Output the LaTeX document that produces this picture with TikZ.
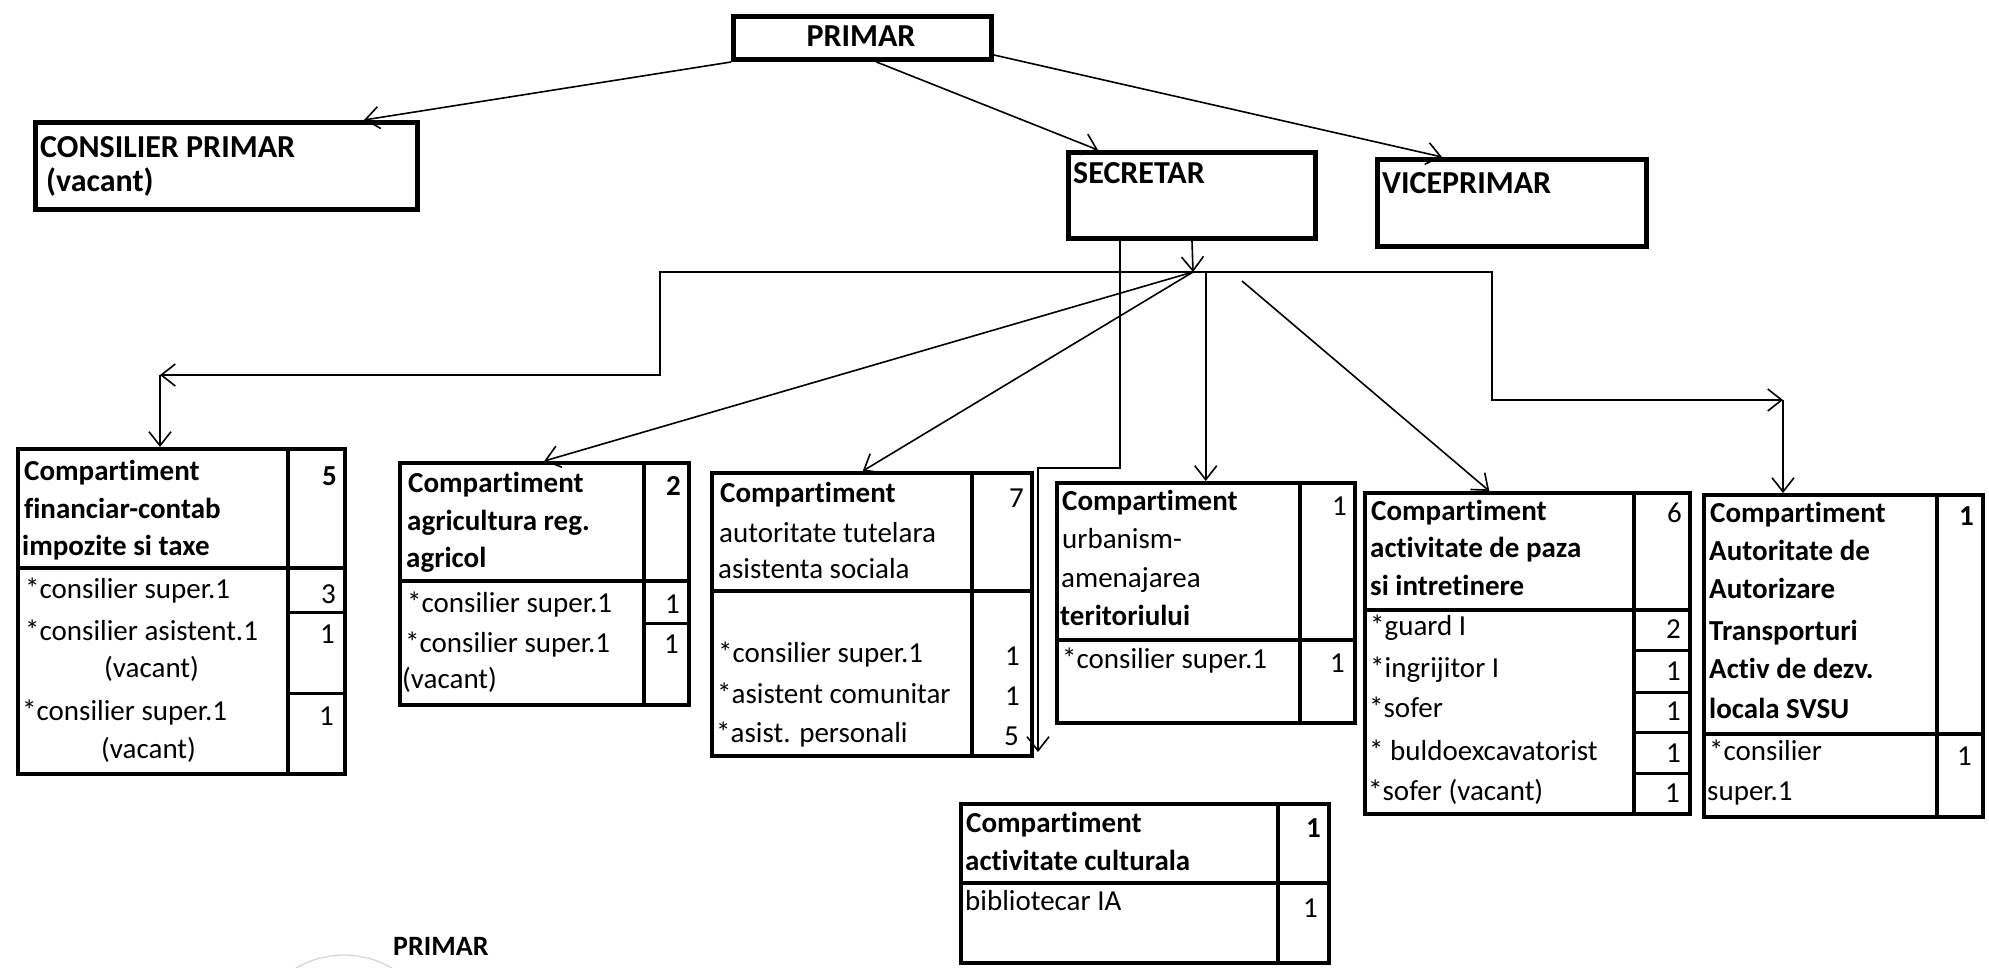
\documentclass[tikz,border=0pt]{standalone}
\usepackage{fontspec}
\setmainfont{Carlito}[Ligatures=NoCommon]
\usetikzlibrary{arrows.meta}
\tikzset{
  topbox/.style={draw, line width=5pt, rectangle, inner sep=0pt, anchor=north west},
  cbox/.style={draw, line width=3.5pt, rectangle, inner sep=0pt, anchor=north west},
  div/.style={line width=3.5pt},
  rdiv/.style={line width=3pt},
  conn/.style={line width=1.6pt},
  arr/.style={conn, -{Straight Barb[length=14pt,width=22pt]}},
  hd/.style={font=\fontsize{29}{36}\selectfont\bfseries, inner sep=0pt, anchor=base west},
  tx/.style={font=\fontsize{29}{36}\selectfont, inner sep=0pt, anchor=base west},
  num/.style={font=\fontsize{29}{36}\selectfont, inner sep=0pt, anchor=base east},
  bnum/.style={font=\fontsize{29}{36}\selectfont\bfseries, inner sep=0pt, anchor=base east},
  tt/.style={font=\fontsize{32}{38}\selectfont\bfseries, inner sep=0pt, anchor=base west},
}
\begin{document}
\begin{tikzpicture}[x=1pt,y=-1pt]
\useasboundingbox (0,0) rectangle (1989,967);
\clip (0,0) rectangle (1989,967);

% ---------- top boxes ----------
\node[topbox, minimum width=258pt, minimum height=43pt] (primar) at (731,14) {};
\node[tt, anchor=base] (primarT) at (861,46) {PRIMAR};

\node[topbox, minimum width=382pt, minimum height=87pt] (consilier) at (33,120) {};
\node[tt] (consT1) at (40,157) {CONSILIER PRIMAR};
\node[tt] (consT2) at (46,191) {(vacant)};

\node[topbox, minimum width=247pt, minimum height=86pt] (secretar) at (1066,150) {};
\node[tt] (secT) at (1073,183) {SECRETAR};

\node[topbox, minimum width=269pt, minimum height=87pt] (viceprimar) at (1375,157) {};
\node[tt] (viceT) at (1382,193) {VICEPRIMAR};

% ---------- financiar ----------
\node[cbox, minimum width=327pt, minimum height=325pt] (fin) at (16,447) {};
\draw[div] (288,447) -- (288,772);
\draw[div] (16,568) -- (343,568);
\draw[rdiv] (288,612) -- (343,612);
\draw[rdiv] (288,693) -- (343,693);
\node[hd] (finH1) at (24,480) {Compartiment};
\node[hd] (finH2) at (24,518) {financiar-contab};
\node[hd] (finH3) at (22,555) {impozite si taxe};
\node[bnum] (finN0) at (337,485) {5};
\node[tx] (finR1) at (25,598) {*consilier super.1};
\node[num] (finN1) at (336,603) {3};
\node[tx] (finR2) at (25,640) {*consilier asistent.1};
\node[tx] (finR3) at (104,677) {(vacant)};
\node[num] (finN2) at (335,643) {1};
\node[tx] (finR4) at (22,720) {*consilier super.1};
\node[tx] (finR5) at (101,758) {(vacant)};
\node[num] (finN3) at (334,725) {1};

% ---------- agricultura ----------
\node[cbox, minimum width=289pt, minimum height=242pt] (agr) at (398,461) {};
\draw[div] (644,461) -- (644,703);
\draw[div] (398,581) -- (687,581);
\draw[rdiv] (644,623) -- (687,623);
\node[hd] (agrH1) at (408,492) {Compartiment};
\node[hd] (agrH2) at (407,530) {agricultura reg.};
\node[hd] (agrH3) at (406,567) {agricol};
\node[bnum] (agrN0) at (681,495) {2};
\node[tx] (agrR1) at (407,612) {*consilier super.1};
\node[num] (agrN1) at (680,613) {1};
\node[tx] (agrR2) at (405,652) {*consilier super.1};
\node[tx] (agrR3) at (402,688) {(vacant)};
\node[num] (agrN2) at (679,653) {1};

% ---------- tutelara ----------
\node[cbox, minimum width=320pt, minimum height=283pt] (tut) at (710,471) {};
\draw[div] (972,471) -- (972,754);
\draw[div] (710,591) -- (1030,591);
\node[hd] (tutH1) at (720,502) {Compartiment};
\node[tx] (tutH2) at (719,542) {autoritate tutelara};
\node[tx] (tutH3) at (718,578) {asistenta sociala};
\node[num] (tutN0) at (1024,507) {7};
\node[tx] (tutR1) at (718,662) {*consilier super.1};
\node[num] (tutN1) at (1020,665) {1};
\node[tx] (tutR2) at (717,703) {*asistent comunitar};
\node[num] (tutN2) at (1020,705) {1};
\node[tx] (tutR3) at (716,742) {*asist. personali};
\node[num] (tutN3) at (1019,745) {5};

% ---------- urbanism ----------
\node[cbox, minimum width=298pt, minimum height=240pt] (urb) at (1055,481) {};
\draw[div] (1300,481) -- (1300,721);
\draw[div] (1055,640) -- (1353,640);
\node[hd] (urbH1) at (1062,510) {Compartiment};
\node[tx] (urbH2) at (1062,548) {urbanism-};
\node[tx] (urbH3) at (1061,587) {amenajarea};
\node[hd] (urbH4) at (1060,625) {teritoriului};
\node[num] (urbN0) at (1347,515) {1};
\node[tx] (urbR1) at (1062,668) {*consilier super.1};
\node[num] (urbN1) at (1345,672) {1};

% ---------- paza ----------
\node[cbox, minimum width=325pt, minimum height=321pt] (paza) at (1363,491) {};
\draw[div] (1634,491) -- (1634,812);
\draw[div] (1363,610) -- (1688,610);
\draw[rdiv] (1634,650) -- (1688,650);
\draw[rdiv] (1634,692) -- (1688,692);
\draw[rdiv] (1634,732) -- (1688,732);
\draw[rdiv] (1634,773) -- (1688,773);
\node[hd] (pazaH1) at (1371,520) {Compartiment};
\node[hd] (pazaH2) at (1370,557) {activitate de paza};
\node[hd] (pazaH3) at (1370,595) {si intretinere};
\node[num] (pazaN0) at (1682,522) {6};
\node[tx] (pazaR1) at (1370,635) {*guard I};
\node[num] (pazaN1) at (1681,638) {2};
\node[tx] (pazaR2) at (1370,677) {*ingrijitor I};
\node[num] (pazaN2) at (1681,680) {1};
\node[tx] (pazaR3) at (1369,717) {*sofer};
\node[num] (pazaN3) at (1681,720) {1};
\node[tx] (pazaR4) at (1369,760) {* buldoexcavatorist};
\node[num] (pazaN4) at (1681,762) {1};
\node[tx] (pazaR5) at (1368,800) {*sofer (vacant)};
\node[num] (pazaN5) at (1680,802) {1};

% ---------- SVSU ----------
\node[cbox, minimum width=279pt, minimum height=322pt] (svsu) at (1702,493) {};
\draw[div] (1937,493) -- (1937,815);
\draw[div] (1702,734) -- (1981,734);
\node[hd] (svH1) at (1710,522) {Compartiment};
\node[hd] (svH2) at (1709,560) {Autoritate de};
\node[hd] (svH3) at (1709,598) {Autorizare};
\node[hd] (svH4) at (1709,640) {Transporturi};
\node[hd] (svH5) at (1709,678) {Activ de dezv.};
\node[hd] (svH6) at (1709,718) {locala SVSU};
\node[bnum] (svN0) at (1974,525) {1};
\node[tx] (svR1) at (1709,760) {*consilier};
\node[tx] (svR2) at (1707,800) {super.1};
\node[num] (svN1) at (1972,765) {1};

% ---------- cultura ----------
\node[cbox, minimum width=368pt, minimum height=159pt] (cult) at (959,802) {};
\draw[div] (1278,802) -- (1278,961);
\draw[div] (959,883) -- (1327,883);
\node[hd] (cultH1) at (966,832) {Compartiment};
\node[hd] (cultH2) at (965,870) {activitate culturala};
\node[bnum] (cultN0) at (1321,837) {1};
\node[tx] (cultR1) at (965,910) {bibliotecar IA};
\node[num] (cultN1) at (1318,917) {1};

% ---------- stamp at bottom ----------
\draw[gray!35, line width=1.2pt] (344,1049) circle (94);
\node[tt, font=\fontsize{28}{34}\selectfont\bfseries] (stampT) at (393,955) {PRIMAR};

% ---------- connectors ----------
\coordinate (hub) at (1193,272);
\coordinate (fj) at (160,375);
\coordinate (sj) at (1783,400);
\coordinate (pstart) at (1242,281);
\coordinate (cend) at (1038,752);

\draw[arr] (primar.south west) -- ([xshift=331pt]consilier.north west);
\draw[arr] ([xshift=14pt]primar.south) -- ([xshift=32pt]secretar.north west);
\draw[arr] ([yshift=7pt]primar.south east) -- ([xshift=67pt]viceprimar.north west);

\draw[arr] (secretar.south) -- (hub);
\draw[arr] (hub) -- (660,272) -- (660,375) -- (fj);
\draw[arr] (fj) -- (fj |- fin.north);
\draw[arr] (hub) -- (agr.north);
\draw[arr] (hub) -- ([xshift=-9pt]tut.north);
\draw[arr] (urb.north |- hub) -- (urb.north);
\draw[arr] (pstart) -- ([xshift=-38pt]paza.north);
\draw[arr] (hub) -- (1492,272) -- (1492,400) -- (sj);
\draw[arr] (sj) -- (sj |- svsu.north);
\draw[arr] ([xshift=54pt]secretar.south west) -- (1120,468) -- (1038,468) -- (cend);
\end{tikzpicture}
\end{document}
